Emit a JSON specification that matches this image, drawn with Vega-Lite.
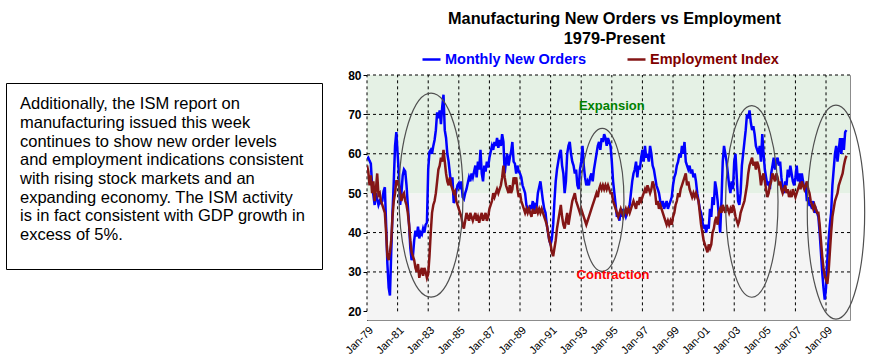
{
  "$schema": "https://vega.github.io/schema/vega-lite/v6.json",
  "background": "white",
  "padding": {"left": 5, "top": 10, "right": 0, "bottom": 0},
  "config": {"font": "Liberation Sans", "view": {"stroke": null}, "axisX": {"labelOverlap": false}},
  "spacing": 19,
  "resolve": {"scale": {"color": "independent"}, "legend": {"color": "independent"}},
  "datasets": {
    "ism": [
{"m":0,"n":58.6,"e":57},{"m":1,"n":59,"e":55.5},{"m":2,"n":58.2,"e":52},{"m":3,"n":57.5,"e":54.5},{"m":4,"n":52,"e":50},{"m":5,"n":49.5,"e":53},{"m":6,"n":47,"e":48},{"m":7,"n":50,"e":51},{"m":8,"n":48.5,"e":55},{"m":9,"n":47,"e":49.5},{"m":10,"n":48,"e":50},{"m":11,"n":47.5,"e":48},
{"m":12,"n":48,"e":47},{"m":13,"n":50.5,"e":46},{"m":14,"n":51.5,"e":45},{"m":15,"n":42,"e":40},{"m":16,"n":32,"e":34},{"m":17,"n":26,"e":33},{"m":18,"n":24,"e":35},{"m":19,"n":35,"e":38},{"m":20,"n":45,"e":44},{"m":21,"n":53,"e":48},{"m":22,"n":62,"e":50},{"m":23,"n":65.5,"e":53},
{"m":24,"n":60,"e":53},{"m":25,"n":55,"e":52},{"m":26,"n":47,"e":50},{"m":27,"n":50,"e":48},{"m":28,"n":54.5,"e":49.5},{"m":29,"n":56,"e":50},{"m":30,"n":55.5,"e":48},{"m":31,"n":52,"e":47},{"m":32,"n":47,"e":45},{"m":33,"n":42,"e":42},{"m":34,"n":36,"e":38},{"m":35,"n":33,"e":35},
{"m":36,"n":34,"e":34},{"m":37,"n":38,"e":33},{"m":38,"n":40.5,"e":31},{"m":39,"n":39,"e":30},{"m":40,"n":41.5,"e":32},{"m":41,"n":38.5,"e":28.5},{"m":42,"n":40,"e":30},{"m":43,"n":39.5,"e":31},{"m":44,"n":41,"e":29},{"m":45,"n":40,"e":31},{"m":46,"n":42,"e":30},{"m":47,"n":42.5,"e":28.5},
{"m":48,"n":56,"e":29.5},{"m":49,"n":60.5,"e":34},{"m":50,"n":61,"e":40},{"m":51,"n":60,"e":45},{"m":52,"n":62,"e":47},{"m":53,"n":63.5,"e":48},{"m":54,"n":66,"e":50},{"m":55,"n":70.5,"e":53},{"m":56,"n":69,"e":56},{"m":57,"n":71,"e":57},{"m":58,"n":67.5,"e":59},{"m":59,"n":72,"e":58},
{"m":60,"n":75,"e":61},{"m":61,"n":66,"e":58},{"m":62,"n":64,"e":55},{"m":63,"n":60,"e":53},{"m":64,"n":58,"e":52},{"m":65,"n":55,"e":54},{"m":66,"n":52,"e":52},{"m":67,"n":54,"e":51},{"m":68,"n":47.5,"e":50},{"m":69,"n":48.5,"e":50.5},{"m":70,"n":50.5,"e":48},{"m":71,"n":52,"e":47},
{"m":72,"n":52.5,"e":46},{"m":73,"n":51,"e":45},{"m":74,"n":53,"e":44},{"m":75,"n":49,"e":42},{"m":76,"n":48.5,"e":41},{"m":77,"n":50,"e":43},{"m":78,"n":51,"e":45},{"m":79,"n":52.5,"e":44},{"m":80,"n":54,"e":43},{"m":81,"n":53,"e":45},{"m":82,"n":55,"e":44},{"m":83,"n":54,"e":43},
{"m":84,"n":55.5,"e":44},{"m":85,"n":57,"e":45},{"m":86,"n":54,"e":43},{"m":87,"n":58,"e":44},{"m":88,"n":56,"e":42.5},{"m":89,"n":61,"e":44},{"m":90,"n":55,"e":45},{"m":91,"n":53,"e":43},{"m":92,"n":57,"e":44},{"m":93,"n":55.5,"e":45},{"m":94,"n":58,"e":43},{"m":95,"n":56.5,"e":44},
{"m":96,"n":59,"e":46},{"m":97,"n":60.5,"e":47},{"m":98,"n":62,"e":48},{"m":99,"n":61,"e":50},{"m":100,"n":63,"e":49},{"m":101,"n":62,"e":50},{"m":102,"n":64,"e":51},{"m":103,"n":61.5,"e":50},{"m":104,"n":63.5,"e":51},{"m":105,"n":62,"e":52},{"m":106,"n":65,"e":54},{"m":107,"n":63,"e":57},
{"m":108,"n":55,"e":54},{"m":109,"n":58,"e":52},{"m":110,"n":60,"e":51},{"m":111,"n":57,"e":50},{"m":112,"n":59,"e":52},{"m":113,"n":60.5,"e":50},{"m":114,"n":63,"e":51},{"m":115,"n":58,"e":54},{"m":116,"n":57.5,"e":53},{"m":117,"n":55,"e":54},{"m":118,"n":57,"e":51},{"m":119,"n":55.5,"e":49},
{"m":120,"n":55,"e":50},{"m":121,"n":54,"e":48},{"m":122,"n":52,"e":47},{"m":123,"n":51,"e":46},{"m":124,"n":50,"e":45},{"m":125,"n":47,"e":46},{"m":126,"n":46,"e":45},{"m":127,"n":45,"e":46},{"m":128,"n":47,"e":45},{"m":129,"n":46,"e":44},{"m":130,"n":48,"e":46},{"m":131,"n":45.5,"e":45},
{"m":132,"n":47,"e":45},{"m":133,"n":46.5,"e":46},{"m":134,"n":50,"e":45},{"m":135,"n":51.5,"e":46},{"m":136,"n":53,"e":45},{"m":137,"n":50.5,"e":46},{"m":138,"n":48,"e":45},{"m":139,"n":46,"e":44},{"m":140,"n":45,"e":43},{"m":141,"n":42,"e":42},{"m":142,"n":40,"e":40},{"m":143,"n":38,"e":38},
{"m":144,"n":37,"e":37},{"m":145,"n":38.5,"e":35},{"m":146,"n":42,"e":34},{"m":147,"n":48,"e":36},{"m":148,"n":53,"e":38},{"m":149,"n":56,"e":41},{"m":150,"n":58,"e":43},{"m":151,"n":60,"e":45},{"m":152,"n":61,"e":47},{"m":153,"n":57,"e":44},{"m":154,"n":55,"e":42},{"m":155,"n":50,"e":41},
{"m":156,"n":53,"e":43},{"m":157,"n":60,"e":45},{"m":158,"n":62,"e":42},{"m":159,"n":63,"e":44},{"m":160,"n":60,"e":46},{"m":161,"n":58,"e":48},{"m":162,"n":57,"e":49},{"m":163,"n":55,"e":50},{"m":164,"n":56,"e":48},{"m":165,"n":52,"e":47},{"m":166,"n":51,"e":46},{"m":167,"n":56,"e":45},
{"m":168,"n":58,"e":46},{"m":169,"n":62,"e":45},{"m":170,"n":57,"e":44},{"m":171,"n":54,"e":43},{"m":172,"n":52,"e":42},{"m":173,"n":53,"e":43},{"m":174,"n":52,"e":44},{"m":175,"n":54,"e":45},{"m":176,"n":55,"e":46},{"m":177,"n":53,"e":47},{"m":178,"n":56,"e":48},{"m":179,"n":58,"e":49},
{"m":180,"n":60,"e":50},{"m":181,"n":62,"e":49},{"m":182,"n":63,"e":51},{"m":183,"n":61,"e":52},{"m":184,"n":64,"e":51},{"m":185,"n":63,"e":52},{"m":186,"n":65,"e":51},{"m":187,"n":64,"e":52},{"m":188,"n":62,"e":51},{"m":189,"n":64,"e":52},{"m":190,"n":63,"e":51},{"m":191,"n":62,"e":50},
{"m":192,"n":58,"e":50},{"m":193,"n":53,"e":48},{"m":194,"n":50,"e":47},{"m":195,"n":47,"e":46},{"m":196,"n":44,"e":45},{"m":197,"n":45,"e":44},{"m":198,"n":43,"e":45},{"m":199,"n":46,"e":46},{"m":200,"n":44,"e":45},{"m":201,"n":46,"e":44},{"m":202,"n":45,"e":45},{"m":203,"n":44,"e":46},
{"m":204,"n":45,"e":45},{"m":205,"n":46,"e":46},{"m":206,"n":47,"e":45},{"m":207,"n":50,"e":46},{"m":208,"n":53,"e":47},{"m":209,"n":55,"e":48},{"m":210,"n":56,"e":47},{"m":211,"n":58,"e":46},{"m":212,"n":54,"e":48},{"m":213,"n":57,"e":47},{"m":214,"n":56,"e":49},{"m":215,"n":59,"e":48},
{"m":216,"n":61,"e":49},{"m":217,"n":58,"e":50},{"m":218,"n":62,"e":51},{"m":219,"n":59,"e":50},{"m":220,"n":60,"e":52},{"m":221,"n":58,"e":51},{"m":222,"n":62,"e":50},{"m":223,"n":60,"e":51},{"m":224,"n":57,"e":53},{"m":225,"n":56,"e":52},{"m":226,"n":54,"e":50},{"m":227,"n":52,"e":47},
{"m":228,"n":51,"e":48},{"m":229,"n":50,"e":46},{"m":230,"n":48,"e":47},{"m":231,"n":47,"e":46},{"m":232,"n":48,"e":45},{"m":233,"n":46,"e":44},{"m":234,"n":47,"e":43},{"m":235,"n":48,"e":42},{"m":236,"n":46,"e":43},{"m":237,"n":47,"e":42},{"m":238,"n":48,"e":43},{"m":239,"n":49,"e":42},
{"m":240,"n":52,"e":44},{"m":241,"n":54,"e":45},{"m":242,"n":55,"e":47},{"m":243,"n":57,"e":48},{"m":244,"n":58,"e":50},{"m":245,"n":60,"e":49},{"m":246,"n":59,"e":51},{"m":247,"n":62,"e":52},{"m":248,"n":60,"e":53},{"m":249,"n":63,"e":54},{"m":250,"n":58,"e":55},{"m":251,"n":57,"e":52},
{"m":252,"n":56,"e":53},{"m":253,"n":57,"e":51},{"m":254,"n":55,"e":50},{"m":255,"n":56,"e":49},{"m":256,"n":54,"e":50},{"m":257,"n":55,"e":49},{"m":258,"n":53,"e":50},{"m":259,"n":50,"e":49},{"m":260,"n":48,"e":48},{"m":261,"n":46,"e":45},{"m":262,"n":45,"e":42},{"m":263,"n":43,"e":40},
{"m":264,"n":41,"e":38},{"m":265,"n":42,"e":37},{"m":266,"n":40,"e":36},{"m":267,"n":42,"e":35},{"m":268,"n":41,"e":37},{"m":269,"n":46,"e":36},{"m":270,"n":44,"e":37},{"m":271,"n":49,"e":40},{"m":272,"n":47,"e":41},{"m":273,"n":53,"e":43},{"m":274,"n":51,"e":44},{"m":275,"n":48,"e":42},
{"m":276,"n":44,"e":45},{"m":277,"n":40,"e":46},{"m":278,"n":48,"e":45},{"m":279,"n":58,"e":47},{"m":280,"n":62,"e":46},{"m":281,"n":60,"e":45},{"m":282,"n":58,"e":47},{"m":283,"n":55,"e":46},{"m":284,"n":52,"e":45},{"m":285,"n":50,"e":46},{"m":286,"n":53,"e":45},{"m":287,"n":51,"e":47},
{"m":288,"n":58,"e":46},{"m":289,"n":60,"e":44},{"m":290,"n":54,"e":43},{"m":291,"n":48,"e":42},{"m":292,"n":47,"e":43},{"m":293,"n":50,"e":45},{"m":294,"n":57,"e":46},{"m":295,"n":60,"e":47},{"m":296,"n":63,"e":48},{"m":297,"n":66,"e":50},{"m":298,"n":70,"e":52},{"m":299,"n":69,"e":55},
{"m":300,"n":71,"e":57},{"m":301,"n":68,"e":58},{"m":302,"n":66,"e":59},{"m":303,"n":67,"e":57},{"m":304,"n":65,"e":58},{"m":305,"n":62,"e":56},{"m":306,"n":61,"e":58},{"m":307,"n":60,"e":57},{"m":308,"n":62,"e":55},{"m":309,"n":58,"e":52},{"m":310,"n":65,"e":54},{"m":311,"n":60,"e":55},
{"m":312,"n":56,"e":53},{"m":313,"n":54,"e":51},{"m":314,"n":52,"e":49},{"m":315,"n":53,"e":50},{"m":316,"n":51,"e":52},{"m":317,"n":55,"e":53},{"m":318,"n":57,"e":55},{"m":319,"n":59,"e":54},{"m":320,"n":56,"e":53},{"m":321,"n":58,"e":55},{"m":322,"n":59,"e":54},{"m":323,"n":57,"e":52},
{"m":324,"n":58,"e":53},{"m":325,"n":54,"e":51},{"m":326,"n":51,"e":50},{"m":327,"n":50,"e":51},{"m":328,"n":53,"e":52},{"m":329,"n":52,"e":50},{"m":330,"n":56,"e":51},{"m":331,"n":54,"e":49},{"m":332,"n":57,"e":50},{"m":333,"n":55,"e":49},{"m":334,"n":53,"e":51},{"m":335,"n":52,"e":50},
{"m":336,"n":54,"e":49},{"m":337,"n":57,"e":50},{"m":338,"n":53,"e":51},{"m":339,"n":55,"e":52},{"m":340,"n":52,"e":51},{"m":341,"n":55,"e":53},{"m":342,"n":53,"e":52},{"m":343,"n":51,"e":51},{"m":344,"n":52,"e":52},{"m":345,"n":48,"e":53},{"m":346,"n":49,"e":51},{"m":347,"n":47,"e":50},
{"m":348,"n":47,"e":48},{"m":349,"n":46,"e":47},{"m":350,"n":48,"e":46},{"m":351,"n":45,"e":47},{"m":352,"n":46,"e":46},{"m":353,"n":45,"e":45},{"m":354,"n":44,"e":45},{"m":355,"n":40,"e":42},{"m":356,"n":35,"e":38},{"m":357,"n":30,"e":34},{"m":358,"n":26,"e":31},{"m":359,"n":23,"e":29},
{"m":360,"n":26,"e":28},{"m":361,"n":33,"e":27},{"m":362,"n":38,"e":30},{"m":363,"n":42,"e":35},{"m":364,"n":45,"e":40},{"m":365,"n":52,"e":44},{"m":366,"n":56,"e":46},{"m":367,"n":60,"e":48},{"m":368,"n":62,"e":49},{"m":369,"n":58,"e":50},{"m":370,"n":61,"e":52},{"m":371,"n":64,"e":53},
{"m":372,"n":60,"e":54},{"m":373,"n":64,"e":55},{"m":374,"n":61,"e":57},{"m":375,"n":65.5,"e":58.5},{"m":376,"n":66,"e":59.5}
    ],
    "vgrid": [{"m":0},{"m":24},{"m":48},{"m":72},{"m":96},{"m":120},{"m":144},{"m":168},{"m":192},{"m":216},{"m":240},{"m":264},{"m":288},{"m":312},{"m":336},{"m":360}],
    "hgrid": [{"v":30},{"v":40},{"v":60},{"v":70},{"v":80}],
    "textlines": [
      {"i":0,"line":"Additionally, the ISM report on"},
      {"i":1,"line":"manufacturing issued this week"},
      {"i":2,"line":"continues to show new order levels"},
      {"i":3,"line":"and employment indications consistent"},
      {"i":4,"line":"with rising stock markets and an"},
      {"i":5,"line":"expanding economy.  The ISM activity"},
      {"i":6,"line":"is in fact consistent with GDP growth in"},
      {"i":7,"line":"excess of 5%."}
    ]
  },
  "hconcat": [
    {
      "spacing": 6,
      "vconcat": [
        {
          "width": 316,
          "height": 1,
          "data": {"values": []},
          "mark": {"type": "point", "opacity": 0}
        },
        {
          "width": 316,
          "height": 186,
          "view": {"stroke": "black", "strokeWidth": 1},
          "data": {"name": "textlines"},
          "mark": {"type": "text", "align": "left", "baseline": "alphabetic", "fontSize": 16.5, "font": "Liberation Sans", "color": "black", "x": 14},
          "encoding": {
            "y": {"field": "i", "type": "quantitative", "scale": {"domain": [-1.40, 8.55], "nice": false, "zero": false, "reverse": true}, "axis": null},
            "text": {"field": "line"}
          }
        }
      ]
    },
    {
      "width": 483,
      "height": 245,
      "view": {"stroke": "#8c8c8c", "strokeWidth": 1},
      "title": {
        "text": ["Manufacturing New Orders vs Employment", "1979-Present"],
        "font": "Liberation Sans", "fontSize": 16.3, "fontWeight": "bold", "color": "black",
        "lineHeight": 20, "anchor": "middle", "offset": 2, "dx": 6
      },
      "layer": [
        {
          "data": {"values": [{"lo": 17.8, "hi": 50}]},
          "mark": {"type": "rect", "fill": "#f4f4f4"},
          "encoding": {
            "y": {"field": "lo", "type": "quantitative",
                  "scale": {"domain": [17.8, 80], "nice": false, "zero": false},
                  "axis": {"values": [20, 30, 40, 50, 60, 70, 80], "grid": false, "title": null,
                           "domainColor": "black", "domainWidth": 1, "tickColor": "black", "tickSize": 4,
                           "labelFont": "Liberation Sans", "labelFontWeight": "bold", "labelFontSize": 12,
                           "labelColor": "black", "labelPadding": 2}},
            "y2": {"field": "hi"}
          }
        },
        {
          "data": {"values": [{"lo": 50, "hi": 80}]},
          "mark": {"type": "rect", "fill": "#e5f1e5"},
          "encoding": {
            "y": {"field": "lo", "type": "quantitative"},
            "y2": {"field": "hi"}
          }
        },
        {
          "data": {"name": "hgrid"},
          "mark": {"type": "rule", "stroke": "black", "strokeWidth": 1, "strokeDash": [3, 3]},
          "encoding": {"y": {"field": "v", "type": "quantitative"}}
        },
        {
          "data": {"name": "vgrid"},
          "mark": {"type": "rule", "stroke": "black", "strokeWidth": 1, "strokeDash": [3, 3]},
          "encoding": {
            "x": {"field": "m", "type": "quantitative",
                  "scale": {"domain": [0, 378.8], "nice": false, "zero": false},
                  "axis": {"values": [0, 24, 48, 72, 96, 120, 144, 168, 192, 216, 240, 264, 288, 312, 336, 360],
                           "labelExpr": "'Jan-' + ((79 + datum.value / 12) % 100 < 10 ? '0' : '') + ((79 + datum.value / 12) % 100)",
                           "labelAngle": -45, "labelOverlap": false, "labelBound": false, "labelFlush": false,
                           "domain": false, "ticks": false, "grid": false, "title": null,
                           "labelFont": "Liberation Sans", "labelFontSize": 11, "labelColor": "black", "labelPadding": 4}},
            "y": {"datum": 20},
            "y2": {"datum": 80}
          }
        },
        {
          "data": {"name": "ism"},
          "transform": [{"fold": ["n", "e"], "as": ["s", "v"]}],
          "mark": {"type": "line", "strokeWidth": 2.5, "clip": true},
          "encoding": {
            "x": {"field": "m", "type": "quantitative",
                  "axis": {"values": [0, 24, 48, 72, 96, 120, 144, 168, 192, 216, 240, 264, 288, 312, 336, 360],
                           "labelExpr": "'Jan-' + ((79 + datum.value / 12) % 100 < 10 ? '0' : '') + ((79 + datum.value / 12) % 100)",
                           "labelAngle": -45, "labelOverlap": false, "labelBound": false, "labelFlush": false,
                           "domain": false, "ticks": false, "grid": false, "title": null,
                           "labelFont": "Liberation Sans", "labelFontSize": 11, "labelColor": "black", "labelPadding": 4}},
            "y": {"field": "v", "type": "quantitative"},
            "color": {
              "field": "s", "type": "nominal",
              "scale": {"domain": ["n", "e"], "range": ["#0000ff", "#841616"]},
              "legend": {
                "orient": "none", "legendX": 54, "legendY": -26, "direction": "horizontal", "title": null,
                "symbolType": "stroke", "symbolSize": 324, "symbolStrokeWidth": 2.5,
                "labelFont": "Liberation Sans", "labelFontSize": 14.5, "labelFontWeight": "bold",
                "labelOffset": 3, "columnPadding": 36, "labelLimit": 0,
                "labelExpr": "datum.value == 'n' ? 'Monthly New Orders' : 'Employment Index'",
                "encode": {"labels": {"update": {"fill": {"signal": "datum.value == 'n' ? '#0000ff' : '#800000'"}}}}
              }
            }
          }
        },
        {
          "mark": {"type": "rule", "stroke": "#333333", "strokeWidth": 3},
          "encoding": {"y": {"datum": 50}}
        },
        {
          "mark": {"type": "rule", "stroke": "black", "strokeWidth": 1.5},
          "encoding": {"y": {"datum": 20}}
        },
        {
          "data": {"values": [{"m": 50.2, "v": 49.5}, {"m": 184.5, "v": 48.3}, {"m": 301.8, "v": 47.9}, {"m": 367.8, "v": 45.2}]},
          "layer": [
            {
              "transform": [{"filter": "datum.m < 100"}],
              "mark": {"type": "point", "filled": false, "stroke": "#505050", "strokeWidth": 1.2, "opacity": 1, "size": 41616,
                       "shape": "M0.3137,0C0.3137,0.5523 0.1733,1 0,1C-0.1733,1 -0.3137,0.5523 -0.3137,0C-0.3137,-0.5523 -0.1733,-1 0,-1C0.1733,-1 0.3137,-0.5523 0.3137,0Z"}
            },
            {
              "transform": [{"filter": "datum.m > 100 && datum.m < 200"}],
              "mark": {"type": "point", "filled": false, "stroke": "#505050", "strokeWidth": 1.2, "opacity": 1, "size": 20449,
                       "shape": "M0.3035,0C0.3035,0.5523 0.1676,1 0,1C-0.1676,1 -0.3035,0.5523 -0.3035,0C-0.3035,-0.5523 -0.1676,-1 0,-1C0.1676,-1 0.3035,-0.5523 0.3035,0Z"}
            },
            {
              "transform": [{"filter": "datum.m > 200 && datum.m < 330"}],
              "mark": {"type": "point", "filled": false, "stroke": "#505050", "strokeWidth": 1.2, "opacity": 1, "size": 36711,
                       "shape": "M0.2735,0C0.2735,0.5523 0.1511,1 0,1C-0.1511,1 -0.2735,0.5523 -0.2735,0C-0.2735,-0.5523 -0.1511,-1 0,-1C0.1511,-1 0.2735,-0.5523 0.2735,0Z"}
            },
            {
              "transform": [{"filter": "datum.m > 330"}],
              "mark": {"type": "point", "filled": false, "stroke": "#505050", "strokeWidth": 1.2, "opacity": 1, "size": 45796,
                       "shape": "M0.2682,0C0.2682,0.5523 0.1481,1 0,1C-0.1481,1 -0.2682,0.5523 -0.2682,0C-0.2682,-0.5523 -0.1481,-1 0,-1C0.1481,-1 0.2682,-0.5523 0.2682,0Z"}
            }
          ],
          "encoding": {
            "x": {"field": "m", "type": "quantitative",
                  "axis": {"values": [0, 24, 48, 72, 96, 120, 144, 168, 192, 216, 240, 264, 288, 312, 336, 360],
                           "labelExpr": "'Jan-' + ((79 + datum.value / 12) % 100 < 10 ? '0' : '') + ((79 + datum.value / 12) % 100)",
                           "labelAngle": -45, "labelOverlap": false, "labelBound": false, "labelFlush": false,
                           "domain": false, "ticks": false, "grid": false, "title": null,
                           "labelFont": "Liberation Sans", "labelFontSize": 11, "labelColor": "black", "labelPadding": 4}},
            "y": {"field": "v", "type": "quantitative"}
          }
        },
        {
          "data": {"values": [{"m": 192, "v": 72.2, "label": "Expansion", "zone": "exp"}, {"m": 193, "v": 29.1, "label": "Contraction", "zone": "con"}]},
          "mark": {"type": "text", "font": "Liberation Sans", "fontSize": 13, "fontWeight": "bold", "align": "center", "baseline": "middle"},
          "encoding": {
            "x": {"field": "m", "type": "quantitative",
                  "axis": {"values": [0, 24, 48, 72, 96, 120, 144, 168, 192, 216, 240, 264, 288, 312, 336, 360],
                           "labelExpr": "'Jan-' + ((79 + datum.value / 12) % 100 < 10 ? '0' : '') + ((79 + datum.value / 12) % 100)",
                           "labelAngle": -45, "labelOverlap": false, "labelBound": false, "labelFlush": false,
                           "domain": false, "ticks": false, "grid": false, "title": null,
                           "labelFont": "Liberation Sans", "labelFontSize": 11, "labelColor": "black", "labelPadding": 4}},
            "y": {"field": "v", "type": "quantitative"},
            "text": {"field": "label"},
            "fill": {"field": "zone", "type": "nominal", "scale": {"domain": ["exp", "con"], "range": ["#008000", "#ff0000"]}, "legend": null}
          }
        }
      ]
    }
  ]
}
